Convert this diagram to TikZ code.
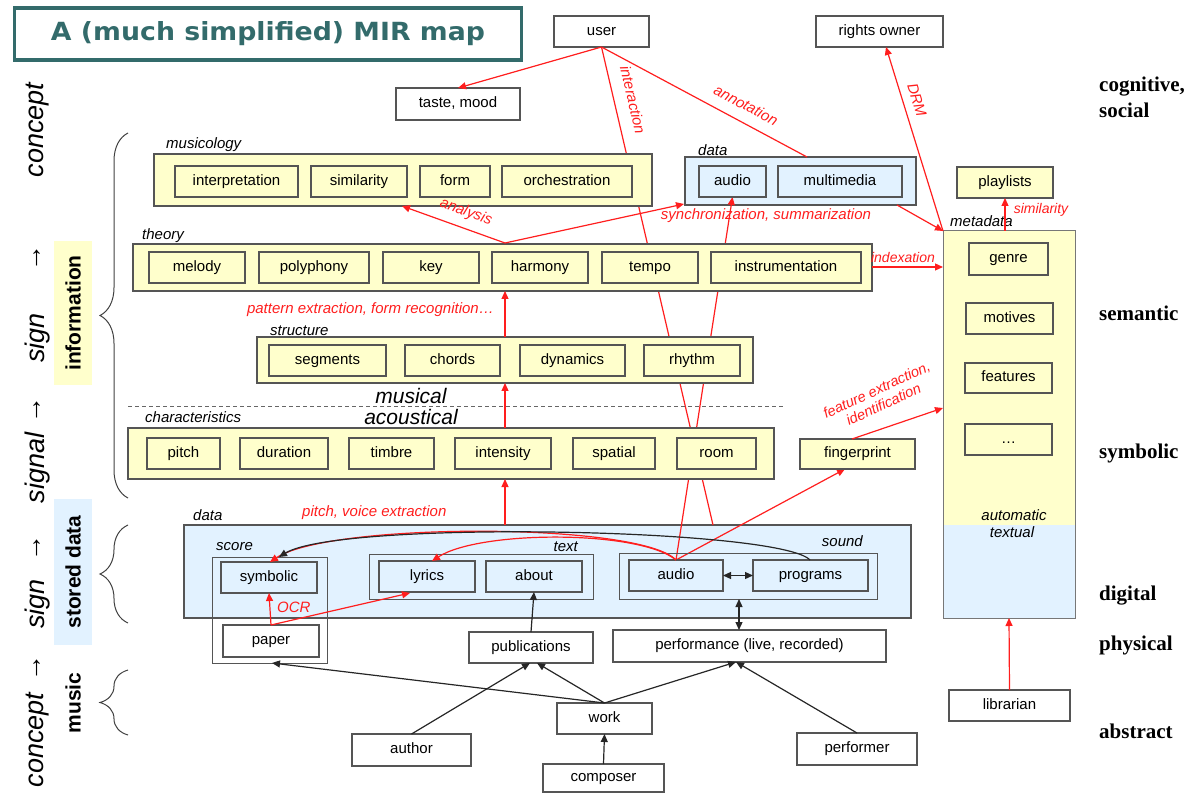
\documentclass[tikz,border=0pt]{standalone}
\usepackage{graphicx}
\usepackage{fontspec}
\setmainfont{Liberation Sans}
\newfontfamily\serifl{Liberation Serif}
\newfontfamily\titlef{DejaVu Sans}
\usetikzlibrary{arrows.meta,decorations.pathreplacing}
\definecolor{yel}{RGB}{255,255,204}
\definecolor{blu}{RGB}{226,242,255}
\definecolor{teal2}{RGB}{51,107,107}
\definecolor{bord}{RGB}{85,85,85}
\definecolor{redl}{RGB}{255,30,30}
\pgfdeclarelayer{back}\pgfdeclarelayer{lines}
\pgfsetlayers{back,lines,main}
\newcommand{\mybox}[7]{%
  \pgfmathsetmacro\bxcx{(#2+#4)/2}%
  \pgfmathsetmacro\bxcy{(#3+#5)/2}%
  \pgfmathsetmacro\bxw{#4-#2}%
  \pgfmathsetmacro\bxh{#5-#3}%
  \node[#7, minimum width=\bxw pt, minimum height=\bxh pt] (#1) at (\bxcx,\bxcy) {#6};%
}
\begin{document}
\begin{tikzpicture}[x=1pt,y=-1pt,
  font=\fontsize{15}{18}\selectfont,
  base/.style={draw=bord, line width=1.1pt, inner sep=0pt, outer sep=0pt, align=center, text height=10.5pt, text depth=3pt},
  ybox/.style={base, fill=yel},
  bbox/.style={base, fill=blu},
  wbox/.style={base, fill=white},
  grp/.style={draw=bord, line width=1pt, inner sep=0pt, outer sep=0pt},
  lab/.style={font=\fontsize{15}{18}\selectfont\itshape, inner sep=0pt},
  rlab/.style={font=\fontsize{15}{18}\selectfont\itshape, text=redl, inner sep=0pt},
  rarr/.style={draw=redl, line width=1.2pt, -{Triangle[length=8pt,width=7pt]}},
  rline/.style={draw=redl, line width=1.2pt},
  barr/.style={draw=black!85, line width=1.2pt, -{Triangle[length=8pt,width=7pt]}},
  bbarr/.style={draw=black!85, line width=1.2pt, {Triangle[length=8pt,width=7pt]}-{Triangle[length=8pt,width=7pt]}},
  side/.style={font=\serifl\bfseries\fontsize{21}{24}\selectfont, anchor=west, inner sep=0pt},
  vtxt/.style={font=\fontsize{27}{30}\selectfont\itshape, rotate=90, inner sep=0pt},
  vbold/.style={font=\bfseries\fontsize{21}{24}\selectfont, rotate=90, inner sep=0pt},
  brc/.style={draw=black!75, line width=1pt, decorate, decoration={brace, amplitude=28pt, aspect=0.5}}
]
\useasboundingbox (0,0) rectangle (1200,794);

% ---------- title
\node[draw=teal2, line width=3.5pt, minimum width=507pt, minimum height=52pt, inner sep=0pt] (title) at (268,34)
  {\titlef\bfseries\fontsize{25}{30}\selectfont\color{teal2}\scalebox{1.07}[1]{A (much simplified) MIR map}};

% ---------- left column
\node[vtxt] (c1) at (38,130) {concept};
\node[vtxt] (a1) at (38,258) {→};
\node[vtxt] (s1) at (38,338) {sign};
\node[vtxt] (a2) at (38,410) {→};
\node[vtxt] (g1) at (38,468) {signal};
\node[vtxt] (a3) at (38,548) {→};
\node[vtxt] (s2) at (38,604) {sign};
\node[vtxt] (a4) at (38,668) {→};
\node[vtxt] (c2) at (38,740) {concept};

\mybox{infobg}{54}{241}{92}{385}{}{fill=yel, draw=none, inner sep=0pt}
\mybox{storbg}{54}{499}{92}{645}{}{fill=blu, draw=none, inner sep=0pt}
\node[vbold] (infot) at (73,313) {information};
\node[vbold] (stort) at (73,572) {stored data};
\node[vbold] (must) at (73,703) {music};
\draw[brc] (128,498) -- (128,133);
\draw[brc] (128,623) -- (128,525);
\draw[brc] (128,735) -- (128,670);

% ---------- right column
\node[side] (r1) at (1099,87) {cognitive,};
\node[side] (r2) at (1099,110) {social};
\node[side] (r3) at (1099,313) {semantic};
\node[side] (r4) at (1099,453) {symbolic};
\node[side] (r5) at (1099,596) {digital};
\node[side] (r6) at (1099,645) {physical};
\node[side] (r7) at (1099,731) {abstract};

% ---------- top
\mybox{user}{554}{16}{649}{47}{user}{wbox}
\mybox{rights}{816}{16}{943}{47}{rights owner}{wbox}
\mybox{taste}{396}{88}{520}{120}{taste, mood}{wbox}

% musicology
\node[lab, anchor=west] (lmus) at (166,145) {musicology};
\mybox{musi}{154}{154}{652}{206}{}{ybox}
\mybox{interp}{175}{166}{298}{197}{interpretation}{ybox}
\mybox{simil}{311}{166}{407}{197}{similarity}{ybox}
\mybox{form}{420}{166}{490}{197}{form}{ybox}
\mybox{orch}{502}{166}{632}{197}{orchestration}{ybox}

% data top
\node[lab, anchor=west] (ldat) at (698,150) {data};
\begin{pgfonlayer}{back}
\mybox{dtop}{685}{157}{916}{205}{}{bbox}
\mybox{dbot}{184}{525}{911}{618}{}{bbox}
\end{pgfonlayer}
\mybox{aud1}{699}{166}{766}{197}{audio}{bbox}
\mybox{mm}{778}{166}{902}{197}{multimedia}{bbox}
\mybox{play}{957}{167}{1053}{198}{playlists}{ybox}

% metadata
\fill[yel] (943,231) rectangle (1075,525);
\fill[blu] (943,525) rectangle (1075,618);
\mybox{meta}{943}{231}{1075}{618}{}{grp, draw=bord!80}
\node[lab, anchor=west] (lmeta) at (950,221) {metadata};
\mybox{genre}{969}{243}{1048}{275}{genre}{ybox}
\mybox{motiv}{966}{303}{1053}{334}{motives}{ybox}
\mybox{feat}{965}{363}{1052}{393}{features}{ybox}
\mybox{dots}{965}{424}{1052}{455}{…}{ybox}
\node[lab] (auto) at (1014,515) {automatic};
\node[lab] (textu) at (1012,532) {textual};

% theory
\node[lab, anchor=west] (lthe) at (142,236) {theory};
\mybox{theo}{133}{244}{872}{291}{}{ybox}
\mybox{melody}{149}{252}{245}{283}{melody}{ybox}
\mybox{polyph}{259}{252}{369}{283}{polyphony}{ybox}
\mybox{key}{383}{252}{479}{283}{key}{ybox}
\mybox{harm}{492}{252}{588}{283}{harmony}{ybox}
\mybox{tempo}{602}{252}{698}{283}{tempo}{ybox}
\mybox{instr}{711}{252}{861}{283}{instrumentation}{ybox}

% structure
\node[lab, anchor=west] (lstr) at (270,331) {structure};
\mybox{stru}{257}{337}{753}{383}{}{ybox}
\mybox{segm}{269}{345}{386}{376}{segments}{ybox}
\mybox{chords}{405}{345}{500}{376}{chords}{ybox}
\mybox{dyn}{520}{345}{625}{376}{dynamics}{ybox}
\mybox{rhy}{644}{345}{740}{376}{rhythm}{ybox}

% musical / acoustical
\node[font=\fontsize{21}{24}\selectfont\itshape, inner sep=0pt] (mus) at (411,396) {musical};
\node[font=\fontsize{21}{24}\selectfont\itshape, inner sep=0pt] (aco) at (411,417) {acoustical};
\draw[black!60, line width=1pt, dash pattern=on 4pt off 3pt] (128,406) -- (784,406);

% characteristics
\node[lab, anchor=west] (lcha) at (145,417) {characteristics};
\mybox{char}{128}{428}{774}{479}{}{ybox}
\mybox{pitch}{147}{438}{220}{469}{pitch}{ybox}
\mybox{dur}{240}{438}{328}{469}{duration}{ybox}
\mybox{timb}{349}{438}{434}{469}{timbre}{ybox}
\mybox{inten}{455}{438}{551}{469}{intensity}{ybox}
\mybox{spat}{573}{438}{655}{469}{spatial}{ybox}
\mybox{room}{677}{438}{756}{469}{room}{ybox}
\mybox{fp}{800}{439}{915}{469}{fingerprint}{ybox}

% bottom data
\node[lab, anchor=west] (ldb) at (193,515) {data};
\node[lab, anchor=west] (lsco) at (216,547) {score};
\node[lab, anchor=east] (ltxt) at (578,547) {text};
\node[lab, anchor=east] (lsnd) at (863,541) {sound};
\mybox{scoreg}{212}{557}{327}{663}{}{grp}
\mybox{textg}{369}{554}{593}{599}{}{grp}
\mybox{soundg}{619}{553}{877}{599}{}{grp}
\mybox{symb}{221}{562}{317}{593}{symbolic}{bbox}
\mybox{paper}{223}{625}{319}{657}{paper}{wbox}
\mybox{lyr}{379}{561}{475}{592}{lyrics}{bbox}
\mybox{about}{486}{561}{582}{592}{about}{bbox}
\mybox{aud2}{629}{560}{723}{591}{audio}{bbox}
\mybox{prog}{753}{560}{868}{591}{programs}{bbox}

% physical / abstract
\mybox{publ}{469}{632}{593}{663}{publications}{wbox}
\mybox{perf}{613}{630}{886}{662}{performance (live, recorded)}{wbox}
\mybox{work}{557}{703}{652}{734}{work}{wbox}
\mybox{author}{352}{734}{471}{766}{author}{wbox}
\mybox{comp}{543}{764}{664}{792}{composer}{wbox}
\mybox{perfr}{797}{733}{917}{765}{performer}{wbox}
\mybox{libr}{949}{690}{1070}{721}{librarian}{wbox}

% ---------- coordinates
\coordinate (iend) at (713,525);
\coordinate (annend) at (807,157);
\coordinate (fpin) at (845,469);
\coordinate (vpt) at (505,243);
\coordinate (analend) at (402,206);
\coordinate (syncend) at (684,204);
\coordinate (dtopout) at (897,205);
\coordinate (metacorner) at (943,231);
\coordinate (rightsin) at (886,47);
\coordinate (simfrom) at (1005,231);
\coordinate (simto) at (1005,198);
\coordinate (idxfrom) at (872,267);
\coordinate (idxto) at (943,267);
\coordinate (fefrom) at (852,439);
\coordinate (feto) at (943,408);
\coordinate (lyrin) at (410,593);
\coordinate (symin) at (270,562);
\coordinate (symin2) at (279,557);
\coordinate (lyrtop) at (432,561);
\coordinate (progtop) at (810,560);
\coordinate (sndb) at (739,599);
\coordinate (perft) at (739,630);
\coordinate (pubin1) at (530,663);
\coordinate (pubin2) at (537,663);
\coordinate (perfin) at (736,662);
\coordinate (paperin) at (272,663);
\coordinate (libto) at (1009,618);

% ---------- lines behind boxes
\begin{pgfonlayer}{lines}
\draw[rline] (user.south) -- (iend);
\draw[rarr] (aud2.north) -- (aud1.south);
\draw[rarr] (aud2.north) -- (fpin);
\end{pgfonlayer}

% ---------- red connectors
\draw[rarr] (user.south) -- (taste.north);
\draw[rline] (user.south) -- (annend);
\draw[rarr] (vpt) -- (analend);
\draw[rarr] (vpt) -- (syncend);
\draw[rarr] (dtopout) -- (metacorner);
\draw[rarr] (metacorner) -- (rightsin);
\draw[rarr] (simfrom) -- (simto);
\draw[rarr] (idxfrom) -- (idxto);
\draw[rarr] (stru.north -| vpt) -- (theo.south -| vpt);
\draw[rarr] (char.north -| vpt) -- (stru.south -| vpt);
\draw[rarr] (dbot.north -| vpt) -- (char.south -| vpt);
\draw[rarr] (fefrom) -- (feto);
\draw[rarr] (paper.north) -- (symb.south);
\draw[rarr] (paper.north) -- (lyrin);
\draw[rarr] (aud2.north) .. controls (640,522) and (330,522) .. (symin);
\draw[rarr] (aud2.north) .. controls (640,530) and (480,530) .. (lyrtop);
\draw[barr] (progtop) .. controls (780,528) and (340,520) .. (symin2);
\draw[rarr] (libr.north) -- (libto);

% ---------- black connectors
\draw[bbarr] (aud2.east) -- (prog.west);
\draw[bbarr] (sndb) -- (perft);
\draw[barr] (publ.north) -- (about.south);
\draw[barr] (work.north) -- (paperin);
\draw[barr] (work.north) -- (pubin2);
\draw[barr] (work.north) -- (perfin);
\draw[barr] (author.north) -- (pubin1);
\draw[barr] (perfr.north) -- (perfin);
\draw[barr] (comp.north) -- (work.south);

% ---------- red labels
\node[rlab, rotate=-20] (lanal) at (466,212) {analysis};
\node[rlab] (lsync) at (766,216) {synchronization, summarization};
\node[rlab, rotate=-77] (linter) at (633,100) {interaction};
\node[rlab, rotate=-28] (lannot) at (746,105) {annotation};
\node[rlab, rotate=-73] (ldrm) at (917,100) {DRM};
\node[rlab, font=\fontsize{14}{16}\selectfont\itshape] (lidx) at (903,258) {indexation};
\node[rlab, font=\fontsize{14}{16}\selectfont\itshape] (lsim) at (1041,210) {similarity};
\node[rlab, anchor=east] (lpat) at (494,310) {pattern extraction, form recognition…};
\node[rlab, rotate=25, align=center, font=\fontsize{14.5}{16}\selectfont\itshape] (lfe) at (880,397) {feature extraction,\\identification};
\node[rlab, anchor=west] (lpve) at (302,513) {pitch, voice extraction};
\node[rlab, anchor=west] (locr) at (277,607) {OCR};
\end{tikzpicture}
\end{document}
